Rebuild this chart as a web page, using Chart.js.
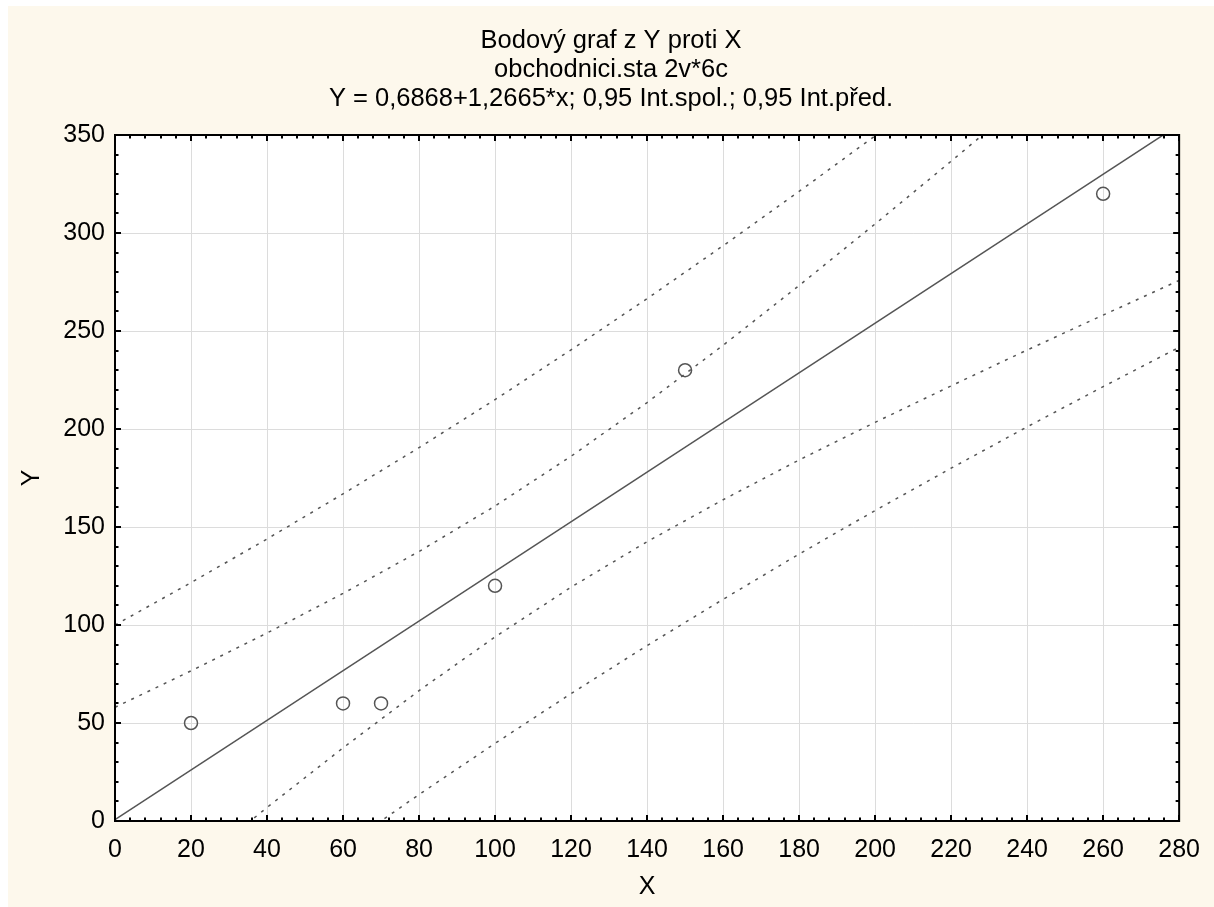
<!DOCTYPE html>
<html>
<head>
<meta charset="utf-8">
<script src="https://cdn.jsdelivr.net/npm/chart.js@4/dist/chart.umd.min.js"></script>
<style>
  body { margin: 0; background: #fff; }
  #wrap { position: absolute; left: 8px; top: 6px; width: 1206px; height: 901px; background: #fdf8ec; }
</style>
</head>
<body>
<div id="wrap"><canvas id="c" width="1206" height="901"></canvas></div>
<script>
// observed points (X, Y)
var pointX = [20, 60, 70, 100, 150, 260];
var pointY = [50, 60, 60, 120, 230, 320];

// fitted line Y = 0,6868 + 1,2665*x, read at both ends of the axis
var fitX = [0, 280];
var fitY = [0.7, 355.3];

// band curves every 20 units of X
var bandX     = [0, 20, 40, 60, 80, 100, 120, 140, 160, 180, 200, 220, 240, 260, 280];
var confUpper = [58, 76.6, 95.9, 116.1, 137.5, 160.7, 186.1, 213.5, 242.7, 273.2, 304.6, 336.6, 369.1, 401.9, 434.8];
var confLower = [-56.6, -24.6, 6.9, 37.3, 66.5, 93.9, 119.3, 142.5, 163.9, 184.2, 203.4, 222, 240.3, 258.1, 275.8];
var predUpper = [100, 121.6, 143.9, 166.9, 190.5, 215, 240.4, 266.5, 293.5, 321.2, 349.6, 378.6, 408.3, 438.4, 468.9];
var predLower = [-98.6, -69.6, -41.2, -13.5, 13.5, 39.6, 65, 89.5, 113.1, 136.2, 158.4, 180, 201.1, 221.6, 241.7];

var titleLines = [
    "Bodový graf z Y proti X",
    "obchodnici.sta 2v*6c",
    "Y = 0,6868+1,2665*x; 0,95 Int.spol.; 0,95 Int.před."
];

function toXY(xs, ys) {
    var out = [];
    for (var i = 0; i < xs.length; i++) out.push({x: xs[i], y: ys[i]});
    return out;
}

var lineColor = "#555555";
var font = "'Liberation Sans', Arial, sans-serif";

function band(arr) {
    return {
        data: toXY(bandX, arr),
        showLine: true,
        borderColor: lineColor,
        borderWidth: 1.5,
        borderDash: [3, 6],
        pointRadius: 0,
        tension: 0,
        order: 2
    };
}

// white plot area, frame and the inner tick marks on all four sides
var frame = {
    id: "frame",
    beforeDraw: function(chart) {
        var a = chart.chartArea, ctx = chart.ctx;
        ctx.save();
        ctx.fillStyle = "#ffffff";
        ctx.fillRect(a.left, a.top, a.right - a.left, a.bottom - a.top);
        ctx.restore();
    },
    afterDraw: function(chart) {
        var a = chart.chartArea, ctx = chart.ctx;
        var xs = chart.scales.x, ys = chart.scales.y;
        ctx.save();
        ctx.strokeStyle = "#000";
        ctx.lineWidth = 2;
        ctx.beginPath();
        for (var v = 0; v <= 280; v += 4) {
            var px = Math.round(xs.getPixelForValue(v));
            var len = (v % 20 === 0) ? 6 : 3.5;
            ctx.moveTo(px, a.bottom); ctx.lineTo(px, a.bottom - len);
            ctx.moveTo(px, a.top); ctx.lineTo(px, a.top + len);
        }
        for (var w = 0; w <= 350; w += 10) {
            var py = Math.round(ys.getPixelForValue(w));
            var l2 = (w % 50 === 0) ? 6 : 3.5;
            ctx.moveTo(a.left, py); ctx.lineTo(a.left + l2, py);
            ctx.moveTo(a.right, py); ctx.lineTo(a.right - l2, py);
        }
        ctx.stroke();
        ctx.strokeRect(a.left, a.top, a.right - a.left, a.bottom - a.top);
        ctx.restore();
    }
};

var chart = new Chart(document.getElementById("c"), {
    type: "scatter",
    data: {
        datasets: [
            {
                data: toXY(pointX, pointY),
                pointStyle: "circle",
                pointRadius: 6.5,
                pointBorderWidth: 1.5,
                pointBorderColor: lineColor,
                pointBackgroundColor: "rgba(0,0,0,0)",
                order: 0
            },
            {
                data: toXY(fitX, fitY),
                showLine: true,
                borderColor: lineColor,
                borderWidth: 1.5,
                pointRadius: 0,
                order: 1
            },
            band(confUpper),
            band(confLower),
            band(predUpper),
            band(predLower)
        ]
    },
    options: {
        responsive: false,
        devicePixelRatio: 1,
        animation: false,
        events: [],
        layout: { padding: 0 },
        plugins: {
            legend: { display: false },
            tooltip: { enabled: false },
            title: {
                display: true,
                text: titleLines,
                color: "#000",
                font: { family: font, size: 25.5, weight: "normal", lineHeight: 29 / 25.5 },
                padding: { top: 20, bottom: 22 }
            }
        },
        scales: {
            x: {
                type: "linear",
                min: 0,
                max: 280,
                afterFit: function(s) { s.height = 86; },
                ticks: { stepSize: 20, color: "#000", padding: 14, font: { family: font, size: 25 } },
                grid: { color: "#dcdcdc", lineWidth: 1, drawTicks: false },
                border: { display: false },
                title: { display: true, text: "X", color: "#000", font: { family: font, size: 25 }, padding: { top: 0, bottom: 5 } }
            },
            y: {
                type: "linear",
                min: 0,
                max: 350,
                afterFit: function(s) { s.width = 107; },
                ticks: { stepSize: 50, color: "#000", padding: 10, font: { family: font, size: 25 } },
                grid: { color: "#dcdcdc", lineWidth: 1, drawTicks: false },
                border: { display: false },
                title: { display: true, text: "Y", color: "#000", font: { family: font, size: 25 }, padding: { top: 9, bottom: 0 } }
            },
            // empty right-hand axis, only keeps the margin right of the frame
            yRight: {
                type: "linear",
                position: "right",
                min: 0,
                max: 350,
                afterFit: function(s) { s.width = 31; },
                ticks: { display: false },
                grid: { display: false, drawTicks: false },
                border: { display: false }
            }
        }
    },
    plugins: [frame]
});
</script>
</body>
</html>
